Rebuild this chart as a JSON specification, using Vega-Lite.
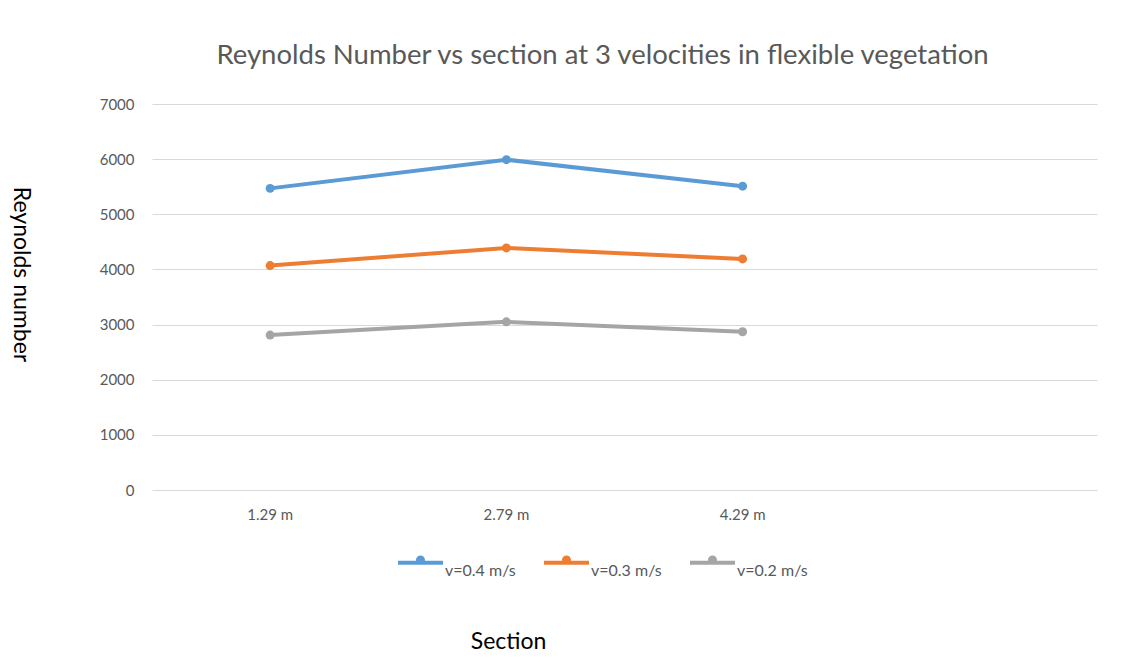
{
  "$schema": "https://vega.github.io/schema/vega-lite/v6.json",
  "autosize": "none",
  "width": 945,
  "height": 386,
  "padding": {"left": 152, "top": 104, "right": 26, "bottom": 167},
  "background": "white",
  "title": {
    "text": "Reynolds Number vs section at 3 velocities in flexible vegetation",
    "font": "Lato",
    "fontSize": 27.5,
    "fontWeight": "normal",
    "color": "#595959",
    "anchor": "middle",
    "dx": -22,
    "offset": 28
  },
  "config": {
    "view": {"stroke": null},
    "font": "Lato",
    "axis": {
      "labelFont": "Lato",
      "labelColor": "#595959",
      "labelFontSize": 15,
      "titleFont": "Lato",
      "titleColor": "#000000",
      "titleFontSize": 23,
      "titleFontWeight": "normal",
      "domain": false,
      "ticks": false
    }
  },
  "data": {
    "values": [
      {"section": "1.29 m", "series": "v=0.4 m/s", "re": 5470},
      {"section": "2.79 m", "series": "v=0.4 m/s", "re": 5990},
      {"section": "4.29 m", "series": "v=0.4 m/s", "re": 5510},
      {"section": "1.29 m", "series": "v=0.3 m/s", "re": 4070},
      {"section": "2.79 m", "series": "v=0.3 m/s", "re": 4390},
      {"section": "4.29 m", "series": "v=0.3 m/s", "re": 4190},
      {"section": "1.29 m", "series": "v=0.2 m/s", "re": 2810},
      {"section": "2.79 m", "series": "v=0.2 m/s", "re": 3050},
      {"section": "4.29 m", "series": "v=0.2 m/s", "re": 2870}
    ]
  },
  "encoding": {
    "x": {
      "field": "section",
      "type": "ordinal",
      "scale": {"type": "band", "domain": ["1.29 m", "2.79 m", "4.29 m", "-"], "paddingInner": 0, "paddingOuter": 0},
      "axis": {
        "title": "Section",
        "values": ["1.29 m", "2.79 m", "4.29 m"],
        "labelAngle": 0,
        "labelPadding": 17,
        "grid": false,
        "titleX": 356,
        "titleY": 151,
        "titleBaseline": "middle",
        "titleAnchor": null
      }
    },
    "y": {
      "field": "re",
      "type": "quantitative",
      "scale": {"domain": [0, 7000], "nice": false},
      "axis": {
        "title": "Reynolds number",
        "values": [0, 1000, 2000, 3000, 4000, 5000, 6000, 7000],
        "format": "d",
        "labelPadding": 18,
        "gridColor": "#d9d9d9",
        "gridWidth": 1,
        "titleAngle": 90,
        "titleX": -132,
        "titleY": 170,
        "titleBaseline": "middle"
      }
    },
    "color": {
      "field": "series",
      "type": "nominal",
      "scale": {
        "domain": ["v=0.4 m/s", "v=0.3 m/s", "v=0.2 m/s"],
        "range": ["#5b9bd5", "#ed7d31", "#a5a5a5"]
      },
      "legend": {
        "title": null,
        "orient": "none",
        "direction": "horizontal",
        "legendX": 246,
        "legendY": 436,
        "symbolType": "M-1,-0.09L1,-0.09L1,0.09L-1,0.09Z M-0.2,-0.12A0.2,0.2 0 1,1 0.2,-0.12A0.2,0.2 0 1,1 -0.2,-0.12Z",
        "symbolSize": 2025,
        "symbolStrokeWidth": 0,
        "labelFont": "Lato",
        "labelFontSize": 16,
        "labelColor": "#595959",
        "labelBaseline": "top",
        "labelOffset": 2,
        "columnPadding": 28
      }
    }
  },
  "layer": [
    {"mark": {"type": "line", "strokeWidth": 4}},
    {"mark": {"type": "point", "filled": true, "size": 80, "opacity": 1}}
  ]
}
